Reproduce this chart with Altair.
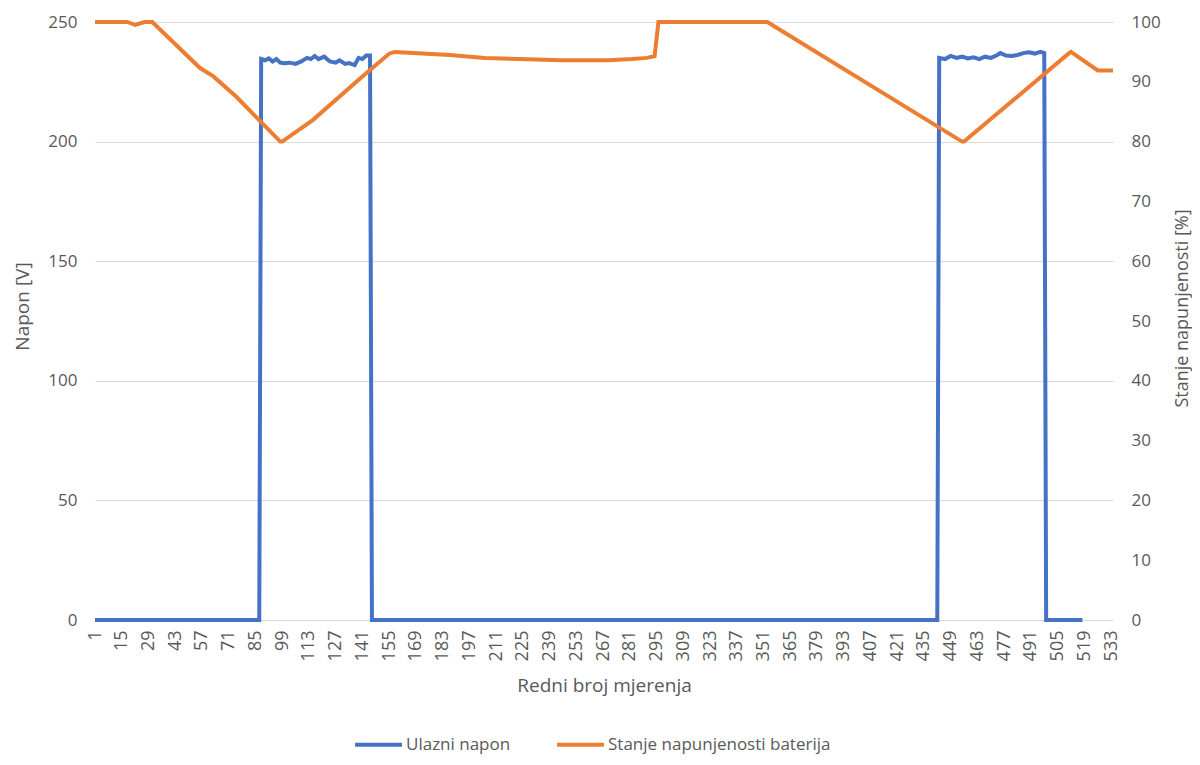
import altair as alt
import pandas as pd

# Ulazni napon [V] (measurement index, value)
blue_idx = [1, 87, 88, 90, 92, 94, 96, 98, 100, 103, 106, 109, 112, 114, 116, 118, 121, 124, 127,
            129, 132, 134, 137, 139, 141, 143, 145, 146,
            442, 443, 446, 449, 452, 455, 458, 461, 464, 467, 470, 473, 475, 478, 481, 484, 487,
            490, 493, 496, 498, 499, 518]
blue_v = [0, 0, 234.5, 234, 234.8, 233.5, 234.5, 233, 232.8, 233, 232.5, 233.5, 235, 234.5, 235.8,
          234.5, 235.5, 233.5, 233, 234, 232.5, 232.8, 232, 235, 234.5, 236, 236, 0,
          0, 235, 234.5, 235.8, 235, 235.5, 234.8, 235.2, 234.5, 235.5, 235, 236, 237, 236, 235.8,
          236.2, 237, 237.3, 236.8, 237.5, 237, 0, 0]

# Stanje napunjenosti baterija [%]
orange_idx = [1, 18, 22, 27, 31, 56, 63, 75, 98, 99, 115, 141, 155, 158, 187, 205, 223, 245, 270,
              282, 290, 294, 296, 353, 455, 456, 511, 512, 526, 534]
orange_pct = [100, 100, 99.5, 100, 100, 92.3, 90.9, 87.5, 80, 80, 83.6, 90.9, 94.7, 95, 94.5, 94.0,
              93.8, 93.6, 93.6, 93.8, 94.0, 94.3, 100, 100, 80, 80, 94.8, 95, 91.9, 91.9]

x_ticks = list(range(1, 534, 14))
left_ticks = [0, 50, 100, 150, 200, 250]
right_ticks = list(range(0, 101, 10))

series = ["Ulazni napon", "Stanje napunjenosti baterija"]
colors = ["#4472C4", "#ED7D31"]

FONT = "Open Sans"
TXT = "#595959"
LBL = 17
TTL = 19

df_b = pd.DataFrame({"n": blue_idx, "v": blue_v, "s": series[0]})
df_o = pd.DataFrame({"n": orange_idx, "p": orange_pct, "s": series[1]})

color = alt.Color(
    "s:N",
    scale=alt.Scale(domain=series, range=colors),
    legend=alt.Legend(
        title=None, orient="none", legendX=258, legendY=697, direction="horizontal",
        symbolType="stroke", symbolStrokeWidth=4, symbolSize=2200, labelLimit=400,
        labelFontSize=17, labelFont=FONT, labelColor=TXT, labelOffset=2, columnPadding=38,
    ),
)

xenc = alt.X(
    "n:Q",
    scale=alt.Scale(domain=[1, 534], nice=False, zero=False),
    axis=alt.Axis(values=x_ticks, labelAngle=-90, grid=False, ticks=False, domain=False,
                  title="Redni broj mjerenja", labelPadding=10, titlePadding=16,
                  labelFontSize=18, titleFontSize=TTL, labelFont=FONT, titleFont=FONT,
                  labelColor=TXT, titleColor=TXT, titleFontWeight="normal"),
)

blue = alt.Chart(df_b).mark_line(strokeWidth=4, strokeJoin="miter").encode(
    x=xenc,
    y=alt.Y("v:Q", scale=alt.Scale(domain=[0, 250], nice=False),
            axis=alt.Axis(orient="left", values=left_ticks, title="Napon [V]", grid=True,
                          gridColor="#D9D9D9", gridWidth=1, ticks=False, domain=False,
                          labelPadding=18, labelFontSize=LBL, titleFontSize=TTL,
                          titleX=-73, titleY=284, titleAngle=270, titleAlign="center",
                          titleBaseline="middle",
                          labelFont=FONT, titleFont=FONT, labelColor=TXT, titleColor=TXT,
                          titleFontWeight="normal")),
    color=color,
)

orange = alt.Chart(df_o).mark_line(strokeWidth=4).encode(
    x=xenc,
    y=alt.Y("p:Q", scale=alt.Scale(domain=[0, 100], nice=False),
            axis=alt.Axis(orient="right", values=right_ticks, title="Stanje napunjenosti [%]",
                          titleAngle=270, titleX=69, titleY=286, titleAlign="center",
                          titleBaseline="middle", grid=False, ticks=False, domain=False,
                          labelPadding=18, labelFontSize=LBL, titleFontSize=18, labelFont=FONT,
                          titleFont=FONT, labelColor=TXT, titleColor=TXT,
                          titleFontWeight="normal")),
    color=color,
)

chart = alt.layer(blue, orange).resolve_scale(y="independent").properties(
    width=1018, height=598,
    padding={"left": 87, "top": 14, "right": 79, "bottom": 137},
    autosize=alt.AutoSizeParams(type="none"),
).configure_view(stroke=None)

chart.save("out.html", embed_options={"renderer": "svg", "actions": False})
